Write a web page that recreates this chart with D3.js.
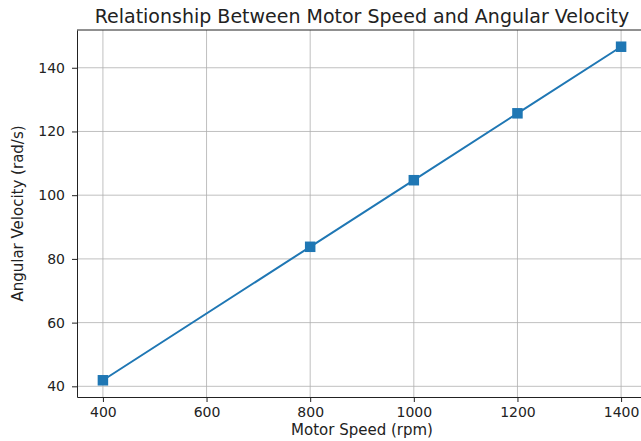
<!DOCTYPE html>
<html>
<head>
<meta charset="utf-8">
<script src="https://cdn.jsdelivr.net/npm/d3@7"></script>
<style>
  body { margin: 0; background: #fff; }
  text { font-family: "DejaVu Sans", sans-serif; fill: #222; }
</style>
</head>
<body>
<svg id="chart"></svg>
<script>
const motorSpeed = [400, 800, 1000, 1200, 1400];
const angularVelocity = [41.9, 83.8, 104.7, 125.7, 146.6];
const xTicks = [400, 600, 800, 1000, 1200, 1400];
const yTicks = [40, 60, 80, 100, 120, 140];

const width = 641, height = 441;
const margin = { top: 30, right: -6, bottom: 44, left: 77 };
const innerW = width - margin.left - margin.right;
const innerH = height - margin.top - margin.bottom;

const svg = d3.select("#chart")
  .attr("width", width)
  .attr("height", height);

const g = svg.append("g")
  .attr("transform", "translate(" + margin.left + "," + margin.top + ")");

const xScale = d3.scaleLinear()
  .domain([350, 1450])
  .range([0, innerW]);

const yScale = d3.scaleLinear()
  .domain([36.65, 151.85])
  .range([innerH, 0]);

// grid
g.append("g")
  .selectAll("line")
  .data(xTicks)
  .enter()
  .append("line")
  .attr("x1", d => xScale(d))
  .attr("x2", d => xScale(d))
  .attr("y1", 0)
  .attr("y2", innerH)
  .attr("stroke", "#b0b0b0")
  .attr("stroke-width", 0.8);

g.append("g")
  .selectAll("line")
  .data(yTicks)
  .enter()
  .append("line")
  .attr("x1", 0)
  .attr("x2", innerW)
  .attr("y1", d => yScale(d))
  .attr("y2", d => yScale(d))
  .attr("stroke", "#b0b0b0")
  .attr("stroke-width", 0.8);

// axes
const xAxis = g.append("g")
  .attr("transform", "translate(0," + innerH + ")")
  .call(d3.axisBottom(xScale).tickValues(xTicks).tickFormat(d3.format("d"))
    .tickSize(5).tickPadding(5).tickSizeOuter(0));

const yAxis = g.append("g")
  .call(d3.axisLeft(yScale).tickValues(yTicks).tickFormat(d3.format("d"))
    .tickSize(5).tickPadding(7).tickSizeOuter(0));

[xAxis, yAxis].forEach(a => {
  a.selectAll("text").style("font-size", "14px").style("fill", "#222");
  a.selectAll("line").attr("stroke", "#222");
  a.select(".domain").attr("stroke", "#222").attr("stroke-width", 1);
});

// spines top/right
g.append("line")
  .attr("x1", 0).attr("x2", innerW)
  .attr("y1", 0).attr("y2", 0)
  .attr("stroke", "#222");
g.append("line")
  .attr("x1", innerW).attr("x2", innerW)
  .attr("y1", 0).attr("y2", innerH)
  .attr("stroke", "#222");

// line
const points = motorSpeed.map((s, i) => [s, angularVelocity[i]]);
const line = d3.line()
  .x(d => xScale(d[0]))
  .y(d => yScale(d[1]));

g.append("path")
  .datum(points)
  .attr("fill", "none")
  .attr("stroke", "#1f77b4")
  .attr("stroke-width", 2)
  .attr("d", line);

g.selectAll("rect.marker")
  .data(points)
  .enter()
  .append("rect")
  .attr("class", "marker")
  .attr("x", d => xScale(d[0]) - 5.25)
  .attr("y", d => yScale(d[1]) - 5.25)
  .attr("width", 10.5)
  .attr("height", 10.5)
  .attr("fill", "#1f77b4");

// title and labels
svg.append("text")
  .attr("x", margin.left + innerW / 2)
  .attr("y", 23)
  .attr("text-anchor", "middle")
  .style("font-size", "19px")
  .text("Relationship Between Motor Speed and Angular Velocity");

svg.append("text")
  .attr("x", margin.left + innerW / 2)
  .attr("y", 435)
  .attr("text-anchor", "middle")
  .style("font-size", "15px")
  .text("Motor Speed (rpm)");

svg.append("text")
  .attr("transform", "translate(23," + (margin.top + innerH / 2) + ") rotate(-90)")
  .attr("text-anchor", "middle")
  .style("font-size", "15px")
  .text("Angular Velocity (rad/s)");
</script>
</body>
</html>
